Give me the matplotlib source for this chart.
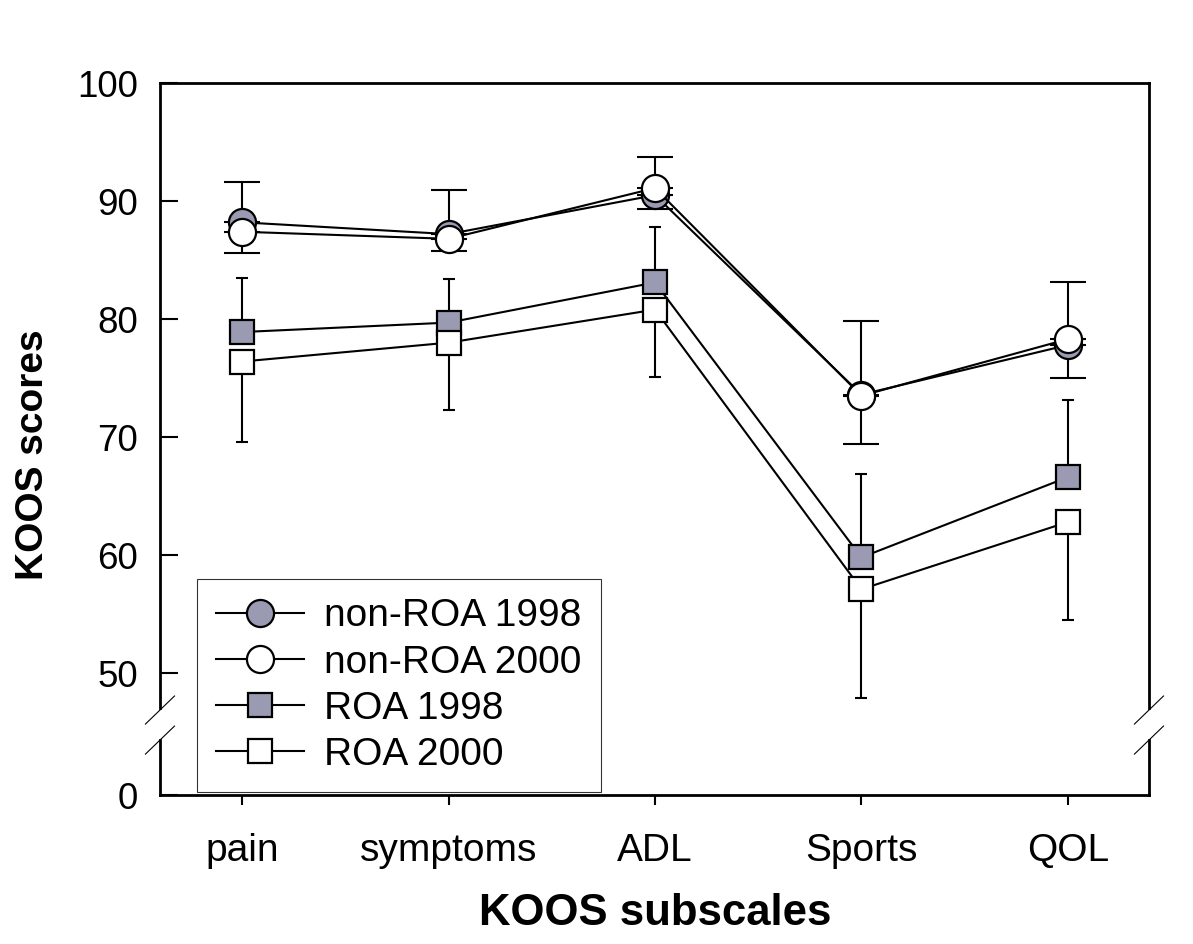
import matplotlib
matplotlib.use("Agg")
import matplotlib.pyplot as plt
import numpy as np

plt.rcParams["font.family"] = ["Liberation Sans", "DejaVu Sans"]

subscales = ["pain", "symptoms", "ADL", "Sports", "QOL"]

# means
nonroa_1998 = [88.2, 87.2, 90.5, 73.6, 77.8]
nonroa_2000 = [87.4, 86.8, 91.1, 73.5, 78.3]
roa_1998 = [78.9, 79.7, 83.1, 59.8, 66.6]
roa_2000 = [76.4, 78.0, 80.8, 57.1, 62.8]

# one-sided error bars (up for 1998, down for 2000)
nonroa_1998_err = [3.4, 3.7, 3.2, 6.2, 5.3]
nonroa_2000_err = [1.8, 1.0, 1.8, 4.1, 3.3]
roa_1998_err = [4.6, 3.7, 4.7, 7.1, 6.5]
roa_2000_err = [6.8, 5.7, 5.7, 9.2, 8.3]

yticks = [0, 50, 60, 70, 80, 90, 100]

GREY = "#9a9ab2"
ZERO_POS = 39.66  # where the "0" sits below the axis break

x = np.arange(len(subscales))
zeros = np.zeros(len(subscales))

fig = plt.figure(figsize=(11.93, 9.44), dpi=100)
ax = fig.add_axes([0.1341, 0.1578, 0.8290, 0.7542])

series = [
    ("non-ROA 1998", nonroa_1998, [zeros, nonroa_1998_err], "o", GREY, 19.5, 13),
    ("non-ROA 2000", nonroa_2000, [nonroa_2000_err, zeros], "o", "white", 19.5, 13),
    ("ROA 1998", roa_1998, [zeros, roa_1998_err], "s", GREY, 17, 4.5),
    ("ROA 2000", roa_2000, [roa_2000_err, zeros], "s", "white", 17, 4.5),
]

for i, (label, vals, err, mk, fc, ms, cap) in enumerate(series):
    ax.errorbar(x, vals, yerr=err, fmt="none", ecolor="black", elinewidth=1.5,
                capsize=cap, capthick=1.5, zorder=2 + i * 0.1)
    ax.plot(x, vals, color="black", linewidth=1.5, marker=mk, markersize=ms,
            markerfacecolor=fc, markeredgecolor="black", markeredgewidth=1.6,
            label=label, zorder=3 + i * 0.1)

ax.set_xlim(-0.398, 4.393)
ax.set_ylim(ZERO_POS, 100)
ax.set_xticks(x)
ax.set_xticklabels(subscales)
ax.set_yticks([ZERO_POS if t == 0 else t for t in yticks])
ax.set_yticklabels([str(t) for t in yticks])

ax.tick_params(axis="y", direction="in", length=13, width=1.5, labelsize=26.5, pad=16)
ax.tick_params(axis="x", direction="out", length=7, width=1.5, labelsize=28, pad=20)

for s in ["top", "bottom"]:
    ax.spines[s].set_linewidth(2)
ax.spines["left"].set_visible(False)
ax.spines["right"].set_visible(False)

# broken left/right spines with slash marks
lo, hi = 0.077, 0.122
for xs in (0.0, 1.0):
    ax.plot([xs, xs], [hi, 1], transform=ax.transAxes, color="black", lw=2,
            clip_on=False, solid_capstyle="projecting", zorder=5)
    ax.plot([xs, xs], [0, lo], transform=ax.transAxes, color="black", lw=2,
            clip_on=False, solid_capstyle="projecting", zorder=5)
    for yc in (0.1194, 0.0772):
        ax.plot([xs - 0.0147, xs + 0.0147], [yc - 0.0197, yc + 0.0197],
                transform=ax.transAxes, color="black", lw=0.8, clip_on=False, zorder=5)

ax.set_xlabel("KOOS subscales", fontsize=31.5, fontweight="bold")
ax.set_ylabel("KOOS scores", fontsize=28, fontweight="bold")
ax.xaxis.set_label_coords(0.501, -0.137)
ax.yaxis.set_label_coords(-0.11, 0.478)

leg = ax.legend(loc="lower left", bbox_to_anchor=(0.0374, 0.004), borderaxespad=0,
                fontsize=28, frameon=True, fancybox=False, edgecolor="black",
                handlelength=2.25, handletextpad=0.52, borderpad=0.5,
                labelspacing=0.26, markerscale=1.0)
leg.get_frame().set_linewidth(0.8)

fig.savefig("out.png", dpi=100)
